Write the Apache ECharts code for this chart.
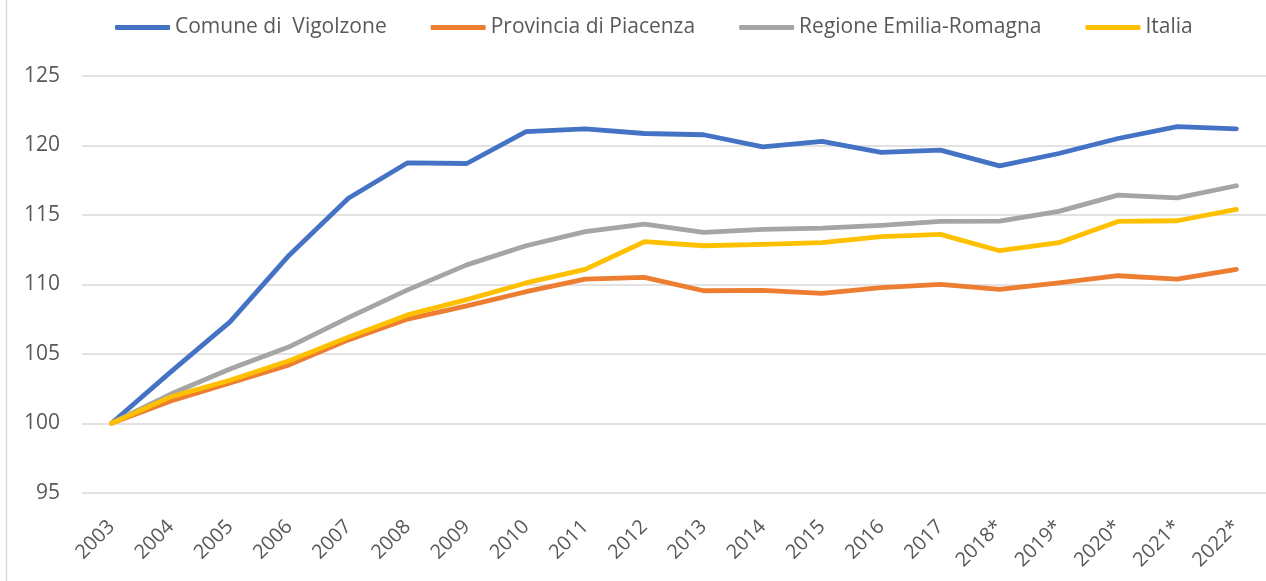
<!DOCTYPE html>
<html>
<head>
<meta charset="utf-8">
<script src="https://cdn.jsdelivr.net/npm/echarts@6/dist/echarts.min.js"></script>
<style>
  html, body { margin: 0; padding: 0; background: #fff; }
  #chart { width: 1266px; height: 581px; }
</style>
</head>
<body>
<div id="chart"></div>
<script>
const years = ['2003', '2004', '2005', '2006', '2007', '2008', '2009', '2010', '2011', '2012',
  '2013', '2014', '2015', '2016', '2017', '2018*', '2019*', '2020*', '2021*', '2022*']
const seriesNames = ['Comune di  Vigolzone', 'Provincia di Piacenza', 'Regione Emilia-Romagna', 'Italia']
const vigolzone = [100, 103.7, 107.3, 112.1, 116.2, 118.75, 118.7, 121.0, 121.2, 120.86,
  120.77, 119.9, 120.3, 119.5, 119.66, 118.53, 119.42, 120.5, 121.35, 121.2]
const piacenza = [100, 101.6, 102.9, 104.2, 106.0, 107.5, 108.45, 109.47, 110.38, 110.5,
  109.54, 109.56, 109.35, 109.76, 110.0, 109.64, 110.1, 110.62, 110.38, 111.08]
const emilia = [100, 102.1, 103.9, 105.5, 107.6, 109.6, 111.4, 112.78, 113.8, 114.34,
  113.74, 113.96, 114.05, 114.25, 114.53, 114.55, 115.25, 116.42, 116.23, 117.1]
const italia = [100, 101.9, 103.1, 104.5, 106.2, 107.8, 108.9, 110.1, 111.08, 113.07,
  112.78, 112.88, 113.0, 113.43, 113.6, 112.42, 113.0, 114.53, 114.58, 115.4]
const colors = ['#4472C4', '#ED7D31', '#A5A5A5', '#FFC000']

const chart = echarts.init(document.getElementById('chart'))
const lineSeries = (name, data, i) => ({
  name: name,
  type: 'line',
  data: data,
  symbol: 'none',
  smooth: false,
  lineStyle: { width: 4.8, color: colors[i], cap: 'round', join: 'round' },
  itemStyle: { color: colors[i] },
})
chart.setOption({
  animation: false,
  color: colors,
  textStyle: { fontFamily: 'Open Sans' },
  graphic: [{
    type: 'line',
    shape: { x1: 6.5, y1: 0, x2: 6.5, y2: 581 },
    style: { stroke: '#d9d9d9', lineWidth: 1.5 },
  }],
  legend: {
    top: 12,
    left: 110,
    icon: 'roundRect',
    itemWidth: 55,
    itemHeight: 5,
    itemGap: 44,
    textStyle: { fontSize: 21, color: '#595959', fontFamily: 'Open Sans' },
    data: seriesNames,
  },
  grid: {
    left: 82,
    top: 76,
    width: 1188,
    height: 416.7,
    containLabel: false,
  },
  xAxis: {
    type: 'category',
    data: years,
    boundaryGap: true,
    axisLine: { show: false },
    axisTick: { show: false },
    axisLabel: {
      rotate: 45,
      interval: 0,
      margin: 31,
      fontSize: 20,
      color: '#595959',
    },
  },
  yAxis: {
    type: 'value',
    min: 95,
    max: 125,
    interval: 5,
    axisLine: { show: false },
    axisTick: { show: false },
    axisLabel: { fontSize: 21, color: '#595959', margin: 22 },
    splitLine: { lineStyle: { color: '#d9d9d9', width: 1.5 } },
  },
  series: [
    lineSeries(seriesNames[0], vigolzone, 0),
    lineSeries(seriesNames[1], piacenza, 1),
    lineSeries(seriesNames[2], emilia, 2),
    lineSeries(seriesNames[3], italia, 3),
  ],
})
</script>
</body>
</html>
